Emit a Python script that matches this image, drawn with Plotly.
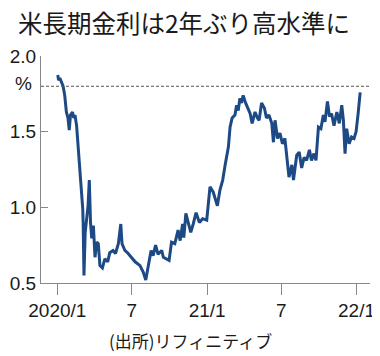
import plotly.graph_objects as go

dates = [
    "2020-01-02", "2020-01-04", "2020-01-07", "2020-01-11", "2020-01-15", "2020-01-19",
    "2020-01-23", "2020-01-27", "2020-01-30", "2020-02-02", "2020-02-07", "2020-02-10",
    "2020-02-13", "2020-02-17", "2020-02-21", "2020-02-25", "2020-02-29", "2020-03-03",
    "2020-03-04", "2020-03-06", "2020-03-09", "2020-03-12", "2020-03-16", "2020-03-19",
    "2020-03-22", "2020-03-25", "2020-03-29", "2020-04-02", "2020-04-06", "2020-04-10",
    "2020-04-14", "2020-04-20", "2020-04-26", "2020-05-03", "2020-05-08", "2020-05-16",
    "2020-05-22", "2020-05-29", "2020-06-04", "2020-06-07", "2020-06-14", "2020-06-22",
    "2020-06-30", "2020-07-09", "2020-07-21", "2020-07-29", "2020-08-04", "2020-08-10",
    "2020-08-17", "2020-08-22", "2020-08-28", "2020-09-03", "2020-09-12", "2020-09-16",
    "2020-09-24", "2020-09-30", "2020-10-06", "2020-10-14", "2020-10-22", "2020-10-27",
    "2020-11-02", "2020-11-05", "2020-11-10", "2020-11-16", "2020-11-22", "2020-11-28",
    "2020-12-05", "2020-12-13", "2020-12-21", "2020-12-31", "2021-01-08", "2021-01-16",
    "2021-01-26", "2021-02-01", "2021-02-08", "2021-02-14", "2021-02-22", "2021-02-26",
    "2021-03-03", "2021-03-10", "2021-03-14", "2021-03-18", "2021-03-22", "2021-03-26",
    "2021-03-30", "2021-04-05", "2021-04-10", "2021-04-16", "2021-04-21", "2021-04-28",
    "2021-05-04", "2021-05-08", "2021-05-14", "2021-05-21", "2021-05-26", "2021-06-01",
    "2021-06-08", "2021-06-12", "2021-06-16", "2021-06-22", "2021-06-28", "2021-07-04",
    "2021-07-10", "2021-07-14", "2021-07-20", "2021-07-27", "2021-07-31", "2021-08-04",
    "2021-08-08", "2021-08-14", "2021-08-20", "2021-08-26", "2021-09-01", "2021-09-08",
    "2021-09-13", "2021-09-19", "2021-09-24", "2021-09-30", "2021-10-06", "2021-10-12",
    "2021-10-16", "2021-10-22", "2021-10-27", "2021-11-01", "2021-11-07", "2021-11-14",
    "2021-11-20", "2021-11-26", "2021-11-30", "2021-12-04", "2021-12-08", "2021-12-14",
    "2021-12-20", "2021-12-26", "2021-12-31", "2022-01-05", "2022-01-10",
]
yields = [
    1.875, 1.84, 1.855, 1.82, 1.80, 1.74,
    1.63, 1.59, 1.51, 1.61, 1.63, 1.59,
    1.61, 1.54, 1.39, 1.30, 1.145, 0.99,
    0.90, 0.55, 0.835, 0.90, 1.01, 1.18,
    0.90, 0.795, 0.88, 0.67, 0.77, 0.76,
    0.615, 0.60, 0.66, 0.64, 0.70, 0.715,
    0.695, 0.76, 0.89, 0.76, 0.715, 0.695,
    0.67, 0.64, 0.615, 0.57, 0.52, 0.60,
    0.715, 0.68, 0.75, 0.69, 0.715, 0.67,
    0.66, 0.65, 0.77, 0.76, 0.85, 0.78,
    0.89, 0.80, 0.96, 0.89, 0.835, 0.89,
    0.965, 0.90, 0.925, 0.915, 1.135, 1.10,
    1.01, 1.11, 1.18, 1.28, 1.40, 1.53,
    1.59, 1.61, 1.675, 1.64, 1.72, 1.69,
    1.74, 1.69, 1.655, 1.62, 1.555, 1.63,
    1.59, 1.575, 1.69, 1.655, 1.59, 1.61,
    1.555, 1.43, 1.575, 1.455, 1.49, 1.42,
    1.455, 1.36, 1.20, 1.28, 1.18, 1.265,
    1.345, 1.365, 1.26, 1.33, 1.31, 1.38,
    1.31, 1.355, 1.31, 1.53, 1.52, 1.61,
    1.565, 1.70, 1.60, 1.62, 1.54, 1.63,
    1.555, 1.675, 1.575, 1.355, 1.52, 1.42,
    1.465, 1.455, 1.50, 1.62, 1.76,
]
tick_vals = ["2020-01-01", "2020-07-01", "2021-01-01", "2021-07-01", "2022-01-01"]
tick_text = ["2020/1", "7", "21/1", "7", "22/1"]
y_ticks = [0.5, 1.0, 1.5, 2.0]
y_text = ["0.5", "1.0", "1.5", "2.0"]
ref_level = 1.80

title = "米長期金利は2年ぶり高水準に"
source = "(出所)リフィニティブ"
unit = "%"

num_font = "Liberation Sans, Arial, sans-serif"
jp_font = "Noto Sans CJK JP, Noto Sans, sans-serif"

# the page body has an 8px margin, so the figure is 8px smaller on each axis
W, H = 372, 348

fig = go.Figure()
fig.add_trace(go.Scatter(
    x=dates, y=yields, mode="lines",
    line=dict(color="#1d4a84", width=3),
    hoverinfo="skip",
))
fig.add_shape(type="line", xref="paper", yref="y", x0=0, x1=1,
              y0=ref_level, y1=ref_level,
              line=dict(color="#555555", width=1, dash="3px,2px"))

fig.update_layout(
    width=W, height=H,
    margin=dict(l=33, r=10, t=48, b=73, autoexpand=False),
    paper_bgcolor="white", plot_bgcolor="white",
    showlegend=False,
    title=dict(text=title, x=10/W, xanchor="left", xref="container",
               y=1 - 16/H, yanchor="middle", yref="container",
               automargin=False,
               font=dict(family=jp_font, size=24.5, color="#1a1a1a")),
    xaxis=dict(
        type="date", range=["2019-11-22", "2022-02-03"],
        tickvals=tick_vals, ticktext=tick_text, automargin=False,
        ticks="outside", ticklen=11, tickcolor="#888888", tickwidth=1,
        ticklabelstandoff=-1,
        showline=True, linecolor="#888888", linewidth=1,
        showgrid=False, zeroline=False,
        tickfont=dict(family=num_font, size=19, color="#1a1a1a"),
    ),
    yaxis=dict(
        range=[0.5, 2.0], tickvals=y_ticks, ticktext=y_text, automargin=False,
        ticks="inside", ticklen=7, tickcolor="#888888", tickwidth=1,
        showline=True, linecolor="#888888", linewidth=1,
        showgrid=False, zeroline=False,
        tickfont=dict(family=num_font, size=19, color="#1a1a1a"),
    ),
    annotations=[
        dict(text=unit, xref="paper", yref="paper", x=-7/329, y=(283-83)/227,
             xanchor="right", yanchor="middle", showarrow=False,
             font=dict(family=num_font, size=19, color="#1a1a1a")),
        dict(text=source, xref="paper", yref="paper", x=(190-41)/329, y=(283-340)/227,
             xanchor="center", yanchor="middle", showarrow=False,
             font=dict(family=jp_font, size=17, color="#1a1a1a")),
    ],
)

fig.write_html("out.html")
